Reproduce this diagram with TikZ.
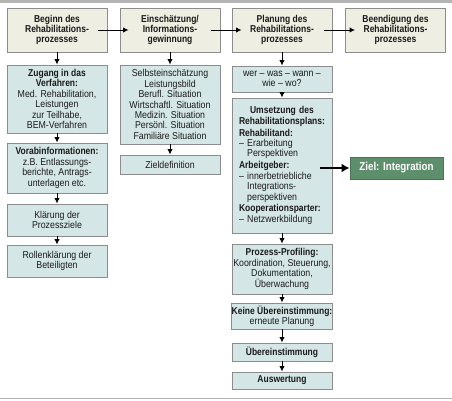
\documentclass[tikz,border=0pt]{standalone}
\usepackage{fontspec}
\setmainfont{Liberation Sans}[FakeStretch=0.88, BoldFeatures={FakeStretch=0.85}]
\usetikzlibrary{arrows.meta,calc,shadows}
\definecolor{beige}{HTML}{EEEEE3}
\definecolor{paleblue}{HTML}{D5E6E6}
\definecolor{zielgreen}{HTML}{5E8F6C}
\definecolor{zielline}{HTML}{4A7356}
\definecolor{boxline}{HTML}{8C8C8C}
\definecolor{rulegray}{HTML}{B4B4B4}
\definecolor{txt}{HTML}{1A1A1A}
\tikzset{
  base/.style={draw=boxline, line width=0.9pt, inner sep=0pt, align=center, text=txt,
    minimum width=100pt, font=\fontsize{10}{10.4}\selectfont,
    drop shadow={shadow xshift=0.8pt, shadow yshift=-0.8pt, fill=black, opacity=0.12}},
  topbox/.style={base, fill=beige, font=\fontsize{10}{10.4}\selectfont\bfseries, minimum height=44pt},
  bluebox/.style={base, fill=paleblue},
  goalbox/.style={draw=zielline, line width=0.9pt, fill=zielgreen, text=white,
    font=\fontsize{11.5}{12}\selectfont\bfseries, minimum width=93pt, minimum height=22pt, inner sep=0pt,
    drop shadow={shadow xshift=0.8pt, shadow yshift=-0.8pt, fill=black, opacity=0.12}},
  flow/.style={-{Latex[length=5.5pt,width=5.5pt]}, line width=1pt, black},
  bigflow/.style={-{Latex[length=8pt,width=9pt]}, line width=2pt, black},
}
\begin{document}
\begin{tikzpicture}[x=1pt,y=-1pt]
\useasboundingbox (0,0) rectangle (452,400);
\fill[rulegray] (0,0) rectangle (452,2.5);
\draw[rulegray, line width=1.5pt] (0,398.5) -- (452,398.5);

% top row
\node[topbox] (beginn) at (57,30) {Beginn des\\Rehabilitations-\\prozesses};
\node[topbox] (einsch) at (170,30) {Einschätzung/\\Informations-\\gewinnung};
\node[topbox] (planung) at (282,30) {Planung des\\Rehabilitations-\\prozesses};
\node[topbox] (beend) at (395.5,30) {Beendigung des\\Rehabilitations-\\prozesses};

% column 1
\node[bluebox, minimum height=68pt] (zugang) at (57,99) {\textbf{Zugang in das}\\\textbf{Verfahren:}\\Med. Rehabilitation,\\Leistungen\\zur Teilhabe,\\BEM-Verfahren};
\node[bluebox, minimum height=50pt] (vorab) at (57,168) {\textbf{Vorabinformationen:}\\z.B. Entlassungs-\\berichte, Antrags-\\unterlagen etc.};
\node[bluebox, minimum height=32pt] (klaerung) at (57,220) {Klärung der\\Prozessziele};
\node[bluebox, minimum height=32pt] (rollen) at (57,261) {Rollenklärung der\\Beteiligten};

% column 2
\node[bluebox, minimum height=79pt] (selbst) at (170,104.5) {Selbsteinschätzung\\Leistungsbild\\Berufl. Situation\\Wirtschaftl. Situation\\Medizin. Situation\\Persönl. Situation\\Familiäre Situation};
\node[bluebox, minimum height=19pt] (zieldef) at (170,164.5) {Zieldefinition};

% column 3
\node[bluebox, minimum height=26pt] (wer) at (282,79) {wer – was – wann –\\wie – wo?};
\node[bluebox, minimum height=135pt, text width=86pt, align=left, inner xsep=7pt] (umsetz) at (282,165.5) {%
\makebox[86pt][c]{\textbf{Umsetzung des}}\\
\makebox[86pt][c]{\textbf{Rehabilitationsplans:}}\\[1.5pt]
\textbf{Rehabilitand:}\\
– Erarbeitung\\
\phantom{– }Perspektiven\\[1.5pt]
\textbf{Arbeitgeber:}\\
– innerbetriebliche\\
\phantom{– }Integrations-\\
\phantom{– }perspektiven\\[1.5pt]
\textbf{Kooperationsparter:}\\
– Netzwerkbildung};
\node[bluebox, minimum height=50pt] (profil) at (282,269) {\textbf{Prozess-Profiling:}\\Koordination, Steuerung,\\Dokumentation,\\Überwachung};
\node[bluebox, minimum height=26pt] (keine) at (282,316) {\textbf{Keine Übereinstimmung:}\\erneute Planung};
\node[bluebox, minimum height=18pt, font=\fontsize{10}{10.4}\selectfont\bfseries] (ueber) at (282,352) {Übereinstimmung};
\node[bluebox, minimum height=17pt, font=\fontsize{10}{10.4}\selectfont\bfseries] (ausw) at (282,380.5) {Auswertung};

% goal
\node[goalbox] (ziel) at (396.5,168) {Ziel: Integration};
\coordinate (zstart) at (320,168);

% horizontal arrows
\draw[flow] ($(beginn.east)+(-9pt,0)$) -- ($(einsch.west)+(9pt,0)$);
\draw[flow] ($(einsch.east)+(-9pt,0)$) -- ($(planung.west)+(10pt,0)$);
\draw[flow] ($(planung.east)+(-8pt,0)$) -- ($(beend.west)+(10pt,0)$);

% vertical arrows
\draw[flow] (beginn) -- (zugang);
\draw[flow] (zugang) -- (vorab);
\draw[flow] (vorab) -- (klaerung);
\draw[flow] (klaerung) -- (rollen);
\draw[flow] (einsch) -- (selbst);
\draw[flow] (selbst) -- (zieldef);
\draw[flow] (planung) -- (wer);
\draw[flow] (wer) -- (umsetz);
\draw[flow] (umsetz) -- (profil);
\draw[flow] (profil) -- (keine);
\draw[flow] (keine) -- (ueber);
\draw[flow] (ueber) -- (ausw);

\draw[bigflow] (zstart) -- (ziel.west);
\end{tikzpicture}
\end{document}
